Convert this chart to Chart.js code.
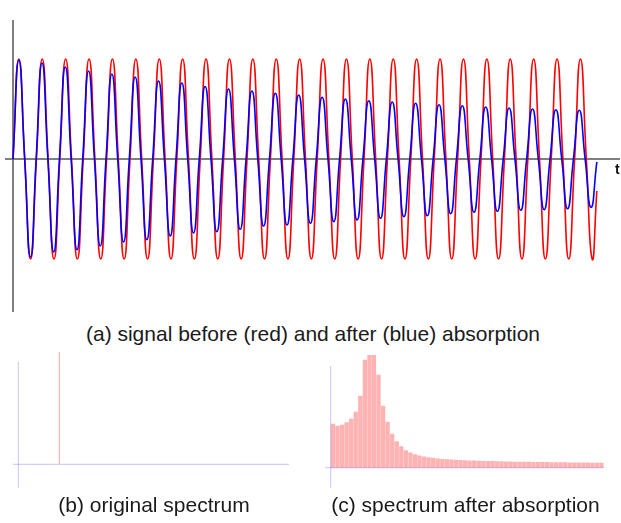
<!DOCTYPE html>
<html>
<head>
<meta charset="utf-8">
<script src="https://cdn.jsdelivr.net/npm/chart.js@4.4.1/dist/chart.umd.min.js"></script>
<style>
  body { margin: 0; background: #fff; width: 621px; height: 523px; overflow: hidden; position: relative; }
  .box { position: absolute; }
  .cap { position: absolute; font-family: 'Liberation Sans', Arial, sans-serif; font-size: 21px; line-height: 21px; color: #1a1a1a; text-align: center; white-space: nowrap; }
  #tLabel { position: absolute; left: 615px; top: 162px; font-family: 'Liberation Sans', Arial, sans-serif; font-weight: bold; font-size: 14px; line-height: 14px; color: #111; }
</style>
</head>
<body>
<div class="box" style="left:0;top:0;width:621px;height:320px"><canvas id="signalChart"></canvas></div>
<div id="tLabel">t</div>
<div class="cap" style="left:0;top:323px;width:626px">(a) signal before (red) and after (blue) absorption</div>

<div class="box" style="left:0;top:340px;width:310px;height:160px"><canvas id="origChart"></canvas></div>
<div class="box" style="left:310px;top:340px;width:311px;height:160px"><canvas id="afterChart"></canvas></div>
<div class="cap" style="left:0;top:494px;width:308px">(b) original spectrum</div>
<div class="cap" style="left:310px;top:494px;width:311px">(c) spectrum after absorption</div>

<script>
// signal (a): one entry per cycle of the driving wave
const redPeak = [1, 1, 1, 1, 1, 1, 1, 1, 1, 1, 1, 1, 1, 1, 1, 1, 1, 1, 1, 1, 1, 1, 1, 1, 1];
const redTrough = [1, 1, 1, 1, 1, 1, 1, 1, 1, 1, 1, 1, 1, 1, 1, 1, 1, 1, 1, 1, 1, 1, 1, 1, 1];
const redEnd = { t: 24.95, y: -0.32 };

const bluePeak = [0.99, 0.96, 0.92, 0.88, 0.85, 0.82, 0.78, 0.76, 0.725, 0.70, 0.68, 0.657, 0.64,
  0.617, 0.60, 0.583, 0.57, 0.557, 0.543, 0.533, 0.52, 0.51, 0.50, 0.493, 0.487];
const blueTrough = [0.98, 0.93, 0.907, 0.87, 0.83, 0.807, 0.77, 0.74, 0.727, 0.703, 0.67, 0.66, 0.643,
  0.627, 0.61, 0.593, 0.577, 0.567, 0.547, 0.533, 0.523, 0.513, 0.507, 0.497, 0.483];
// how far (in cycles) the blue wave runs ahead of the red one
const blueLead = [0, 0.01, 0.015, 0.02, 0.025, 0.03, 0.03, 0.035, 0.04, 0.04, 0.04, 0.04, 0.04,
  0.04, 0.045, 0.045, 0.045, 0.045, 0.045, 0.05, 0.05, 0.05, 0.05, 0.05, 0.05];
const blueEnd = { t: 24.95, y: -0.03 };

// spectrum (b): a single line at the driving frequency
const lineFreq = [1];
const lineHeight = [112.6];

// spectrum (c): bins of width 1/9 of the driving frequency
const spectrumAfter = [44, 42, 43, 45.5, 49, 56, 72, 108, 200, 160, 93, 62, 46, 34, 26.5, 21.5, 17.5,
  15.3, 13.5, 12.3, 11.2, 10.5, 9.9, 9.3, 8.8, 8.5, 8.2, 7.9, 7.7, 7.5, 7.3, 7.1, 7.0, 6.8, 6.7, 6.6,
  6.5, 6.35, 6.25, 6.15, 6.05, 6.0, 5.9, 5.85, 5.75, 5.7, 5.65, 5.6, 5.5, 5.45, 5.4, 5.35, 5.3, 5.25,
  5.2, 5.15, 5.1, 5.05, 5.0, 5.0];
const freqBins = spectrumAfter.map((_, k) => (k + 0.5) / 9);

// zero crossings, crest, zero crossing, trough for each cycle
function wavePoints(peaks, troughs, lead, end) {
  const pts = [];
  peaks.forEach((p, n) => {
    const d = lead ? lead[n] : 0;
    pts.push({ x: n - d, y: 0 });
    pts.push({ x: n + 0.25 - d, y: p });
    pts.push({ x: n + 0.5 - d, y: 0 });
    pts.push({ x: n + 0.75 - d, y: -troughs[n] });
  });
  pts.push({ x: end.t, y: end.y });
  return pts;
}

// draws the two axes through zero, across the chart area
const axisLines = {
  id: 'axisLines',
  beforeDatasetsDraw(chart, args, opts) {
    const { ctx, chartArea: a, scales: { x, y } } = chart;
    const px = x.getPixelForValue(0);
    const py = y.getPixelForValue(0);
    ctx.save();
    ctx.strokeStyle = opts.color;
    ctx.lineWidth = opts.width;
    ctx.beginPath();
    ctx.moveTo(px, a.top);
    ctx.lineTo(px, a.bottom);
    ctx.moveTo(a.left, py);
    ctx.lineTo(a.right, py);
    ctx.stroke();
    ctx.restore();
  }
};

function baseOptions(padding, xr, yr, axisColor, axisWidth) {
  return {
    responsive: true,
    maintainAspectRatio: false,
    animation: false,
    events: [],
    layout: { padding: padding },
    plugins: {
      legend: { display: false },
      tooltip: { enabled: false },
      axisLines: { color: axisColor, width: axisWidth }
    },
    scales: {
      x: { type: 'linear', display: false, min: xr[0], max: xr[1], offset: false },
      y: { type: 'linear', display: false, min: yr[0], max: yr[1] }
    }
  };
}

new Chart(document.getElementById('signalChart'), {
  type: 'line',
  data: {
    datasets: [
      {
        label: 'after',
        data: wavePoints(bluePeak, blueTrough, blueLead, blueEnd),
        borderColor: '#0000ff',
        borderWidth: 1.6,
        pointRadius: 0,
        tension: 0.55,
        fill: false
      },
      {
        label: 'before',
        data: wavePoints(redPeak, redTrough, null, redEnd),
        borderColor: '#ff0000',
        borderWidth: 1.6,
        pointRadius: 0,
        tension: 0.55,
        fill: false
      }
    ]
  },
  options: baseOptions({ left: 5, right: 1, top: 20, bottom: 8 }, [-0.342, 25.94], [-1.53, 1.39], '#555', 1.5),
  plugins: [axisLines]
});

new Chart(document.getElementById('origChart'), {
  type: 'bar',
  data: {
    datasets: [{
      data: lineFreq.map((f, i) => ({ x: f, y: lineHeight[i] })),
      backgroundColor: 'rgba(255, 0, 0, 0.35)',
      borderWidth: 0,
      barThickness: 1,
      inflateAmount: 0,
      clip: { left: 0, top: 12, right: 0, bottom: 0 }
    }]
  },
  options: baseOptions({ left: 13, right: 21, top: 21.7, bottom: 12.3 }, [-0.13, 6.6], [-23.4, 102.6], 'rgba(90, 90, 255, 0.35)', 1),
  plugins: [axisLines]
});

new Chart(document.getElementById('afterChart'), {
  type: 'bar',
  data: {
    datasets: [{
      data: freqBins.map((f, i) => ({ x: f, y: spectrumAfter[i] })),
      backgroundColor: 'rgba(255, 0, 0, 0.3)',
      borderWidth: 0,
      barThickness: 4.3,
      inflateAmount: 0,
      clip: { left: 0, top: 11, right: 0, bottom: 0 }
    }]
  },
  options: baseOptions({ left: 15, right: 17.3, top: 26, bottom: 12.3 }, [-0.139, 6.66], [-20, 101.7], 'rgba(90, 90, 255, 0.35)', 1),
  plugins: [axisLines]
});
</script>
</body>
</html>
